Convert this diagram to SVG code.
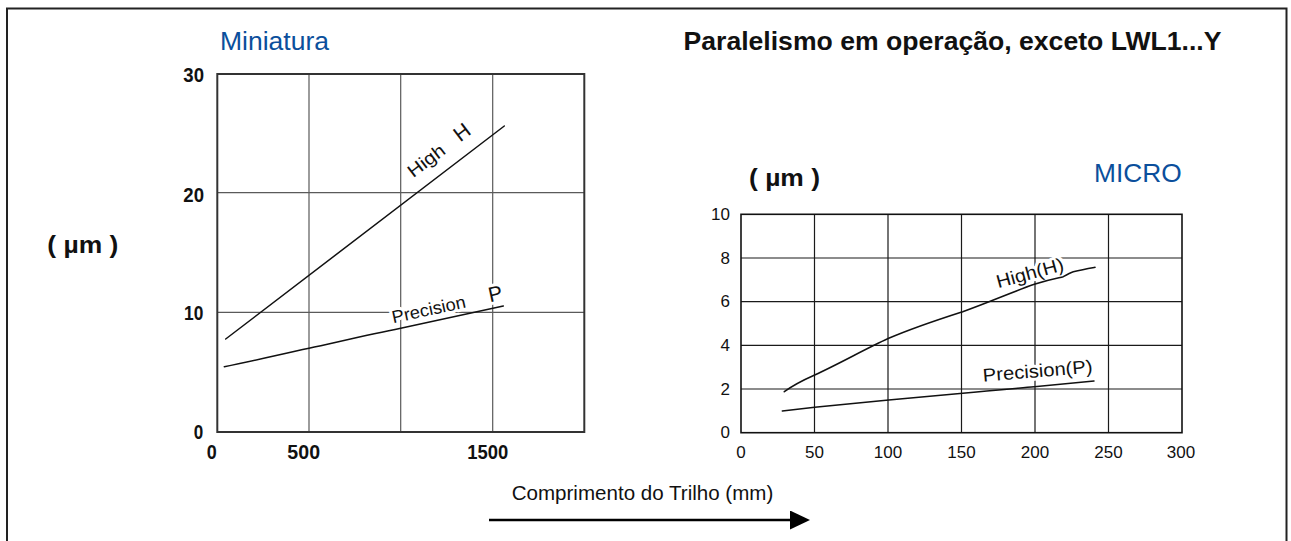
<svg xmlns="http://www.w3.org/2000/svg" width="1291" height="541" viewBox="0 0 1291 541">
<style>
  .t { font-family: "Liberation Sans", Arial, sans-serif; fill: #111; }
  .b { font-weight: bold; }
  .blue { fill: #0b4f9c; }
  .gridL { stroke: #5a5a5a; stroke-width: 1.2; fill: none; }
  .boxL { stroke: #333; stroke-width: 2; fill: none; }
  .gridR { stroke: #1a1a1a; stroke-width: 1.2; fill: none; }
  .boxR { stroke: #111; stroke-width: 1.6; fill: none; }
  .data { stroke: #111; stroke-width: 1.5; fill: none; stroke-linejoin: round; stroke-linecap: round; }
  .halo { stroke: #fff; stroke-width: 6; stroke-linejoin: round; paint-order: stroke; }
  .axL { font-size: 21px; font-weight: bold; }
  .axR { font-size: 17px; }
</style>
<defs>
  <marker id="arrow" markerWidth="20" markerHeight="20" refX="0" refY="9.5" orient="auto" markerUnits="userSpaceOnUse">
    <path d="M0,0 L20,9.5 L0,19 Z" fill="#000"/>
  </marker>
</defs>
<rect width="1291" height="541" fill="#fff"/>
<g id="frame">
  <rect x="7" y="8.5" width="1279.5" height="560" fill="none" stroke="#222" stroke-width="2"/>
</g>
<g id="title">
  <text class="t b" x="683.5" y="49.5" font-size="26" textLength="538" lengthAdjust="spacingAndGlyphs">Paralelismo em operação, exceto LWL1...Y</text>
</g>
<g id="chart-miniatura">
  <text class="t blue" x="220" y="50" font-size="26" textLength="109" lengthAdjust="spacingAndGlyphs">Miniatura</text>
  <text class="t b" x="47.3" y="253" font-size="24" textLength="71" lengthAdjust="spacingAndGlyphs">( µm )</text>
  <g id="grid-miniatura">
    <path class="gridL" d="M309,74 V432 M400.7,74 V432 M492.7,74 V432 M217,192.7 H584.5 M217,312.3 H584.5"/>
    <rect class="boxL" x="217.3" y="74" width="367" height="358"/>
  </g>
  <g id="ylabels-miniatura" text-anchor="end">
    <text class="t axL" x="204" y="82" textLength="20.7" lengthAdjust="spacingAndGlyphs">30</text>
    <text class="t axL" x="204" y="201.5" textLength="20.7" lengthAdjust="spacingAndGlyphs">20</text>
    <text class="t axL" x="203.3" y="320" textLength="19.3" lengthAdjust="spacingAndGlyphs">10</text>
    <text class="t axL" x="203.3" y="438.5" textLength="9.5" lengthAdjust="spacingAndGlyphs">0</text>
  </g>
  <g id="xlabels-miniatura" text-anchor="middle">
    <text class="t axL" x="211.7" y="458.5" textLength="10" lengthAdjust="spacingAndGlyphs">0</text>
    <text class="t axL" x="303.7" y="458.5" textLength="32.7" lengthAdjust="spacingAndGlyphs">500</text>
    <text class="t axL" x="487.8" y="458.5" textLength="41" lengthAdjust="spacingAndGlyphs">1500</text>
  </g>
  <g id="labels-miniatura">
    <text class="t halo" font-size="18" transform="translate(413.3,178.3) rotate(-37.4)"><tspan x="0" textLength="42" lengthAdjust="spacingAndGlyphs">High</tspan><tspan x="59" font-size="21">H</tspan></text>
    <text class="t halo" font-size="17.5" transform="translate(393.3,323.3) rotate(-12.3)"><tspan x="0" textLength="75" lengthAdjust="spacingAndGlyphs">Precision</tspan><tspan x="99" font-size="21">P</tspan></text>
  </g>
  <g id="curves-miniatura">
    <path class="data" d="M225.7,339 L504.3,126"/>
    <path class="data" d="M224.3,366.7 C255,360.5 280,354.5 309,348.3 C340,341.5 370,334.5 400.7,328.3 C425,323 450,317.5 503.3,306"/>
  </g>
</g>
<g id="chart-micro">
  <text class="t blue" x="1181.7" y="182" font-size="26" text-anchor="end" textLength="87.7" lengthAdjust="spacingAndGlyphs">MICRO</text>
  <text class="t b" x="749" y="186" font-size="24" textLength="71" lengthAdjust="spacingAndGlyphs">( µm )</text>
  <g id="grid-micro">
    <path class="gridR" d="M814.5,214.3 V432.7 M888,214.3 V432.7 M961.5,214.3 V432.7 M1035,214.3 V432.7 M1108.5,214.3 V432.7 M741,258 H1182 M741,301.7 H1182 M741,345.3 H1182 M741,389 H1182"/>
    <rect class="boxR" x="741" y="214.3" width="441" height="218.4"/>
  </g>
  <g id="ylabels-micro" text-anchor="end">
    <text class="t axR" x="730" y="220">10</text>
    <text class="t axR" x="730" y="263.7">8</text>
    <text class="t axR" x="730" y="307.4">6</text>
    <text class="t axR" x="730" y="351">4</text>
    <text class="t axR" x="730" y="394.7">2</text>
    <text class="t axR" x="730" y="438.3">0</text>
  </g>
  <g id="xlabels-micro" text-anchor="middle">
    <text class="t axR" x="741" y="458.3">0</text>
    <text class="t axR" x="814.5" y="458.3">50</text>
    <text class="t axR" x="888" y="458.3">100</text>
    <text class="t axR" x="961.5" y="458.3">150</text>
    <text class="t axR" x="1035" y="458.3">200</text>
    <text class="t axR" x="1108.5" y="458.3">250</text>
    <text class="t axR" x="1181" y="458.3">300</text>
  </g>
  <g id="labels-micro">
    <text class="t halo" font-size="18.5" transform="translate(998.3,288.3) rotate(-15.3)" textLength="69" lengthAdjust="spacingAndGlyphs">High(H)</text>
    <text class="t halo" font-size="18.5" transform="translate(983.3,381.7) rotate(-4.7)" textLength="110" lengthAdjust="spacingAndGlyphs">Precision(P)</text>
  </g>
  <g id="curves-micro">
    <path class="data" d="M784.3,391.7 C792,386 800,381.5 814.7,375 C840,363.5 865,349 888.7,338.3 C915,327 940,319 962.7,311.7 C990,302 1012,292 1034.3,284.3 C1050,279 1058,278 1063.3,276.7 C1068,274 1071,272.5 1073.3,271.7 C1082,269.5 1088,268.5 1095,267.3"/>
    <path class="data" d="M782.3,411 C800,409 808,408 814.7,407.3 C840,405 865,402.3 888.7,400 C915,397.5 940,395.5 962.7,393.3 C990,390.5 1012,388.7 1034.3,386.7 C1055,384.8 1075,382.8 1094,381"/>
  </g>
</g>
<g id="axis-label">
  <text class="t" x="511.7" y="500" font-size="20.5" textLength="261.6" lengthAdjust="spacingAndGlyphs">Comprimento do Trilho (mm)</text>
</g>
<g id="connectors">
  <path d="M489,520 H790" stroke="#000" stroke-width="2.5" fill="none" marker-end="url(#arrow)"/>
</g>
</svg>
